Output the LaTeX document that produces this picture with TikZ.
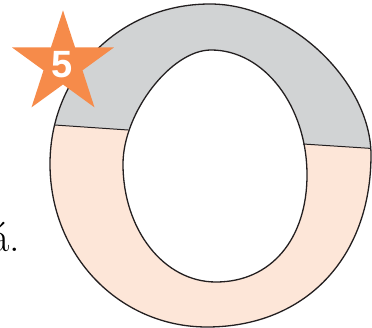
\documentclass[tikz,border=0pt]{standalone}
\usepackage{fontspec}
\newfontfamily\badgefont{Liberation Sans}
\definecolor{ringgray}{HTML}{D1D3D4}
\definecolor{ringpeach}{HTML}{FDE6D8}
\definecolor{badgeorange}{HTML}{F68B4A}
\definecolor{inkline}{HTML}{231F20}
\tikzset{
  ringline/.style={draw=inkline,line width=1.3pt},
  badge/.style={fill=badgeorange}
}
\def\outerring{(210,4) .. controls (290,4) and (371,82) .. (371,155)
  .. controls (371,258) and (305,327) .. (207,327)
  .. controls (119,327) and (50,255) .. (50,164)
  .. controls (50,74) and (120,4) .. (210,4) -- cycle}
\def\innerring{(211,50) .. controls (264,50) and (307,106) .. (307,175)
  .. controls (307,239) and (271,282) .. (216,282)
  .. controls (164,282) and (123,230) .. (123,164)
  .. controls (123,113) and (171,50) .. (211,50) -- cycle}
\begin{document}
\begin{tikzpicture}[x=1pt,y=-1pt]
\useasboundingbox (0,0) rectangle (372,328);

% ring, lower part
\fill[ringpeach] \outerring;
% ring, upper part
\begin{scope}
\clip (0,0) -- (400,0) -- (400,150) -- (303,144) -- (128,130) -- (0,121) -- cycle;
\fill[ringgray] \outerring;
\end{scope}
\fill[white] \innerring;
\draw[ringline] \outerring;
\draw[ringline] \innerring;

% dividing lines
\begin{scope}
\clip \outerring;
\draw[ringline,line width=1pt] (40,124) -- (128,130);
\draw[ringline,line width=1pt] (303,144) -- (380,149);
\end{scope}

% star with number
\begin{scope}[shift={(63,64)}]
\fill[badge] (-90:53.6) -- (-54:20.5) -- (-18:53.6) -- (18:20.5) -- (54:53.6)
  -- (90:20.5) -- (126:53.6) -- (162:20.5) -- (198:53.6) -- (234:20.5) -- cycle;
\end{scope}
\node[text=white,inner sep=0pt,font=\badgefont\bfseries\fontsize{38}{38}\selectfont] (num) at (62.5,65) {5};

% text fragment
\node[anchor=base east,inner sep=0pt,font=\fontsize{42}{42}\selectfont] (frag) at (20,252) {á.};
\end{tikzpicture}
\end{document}
